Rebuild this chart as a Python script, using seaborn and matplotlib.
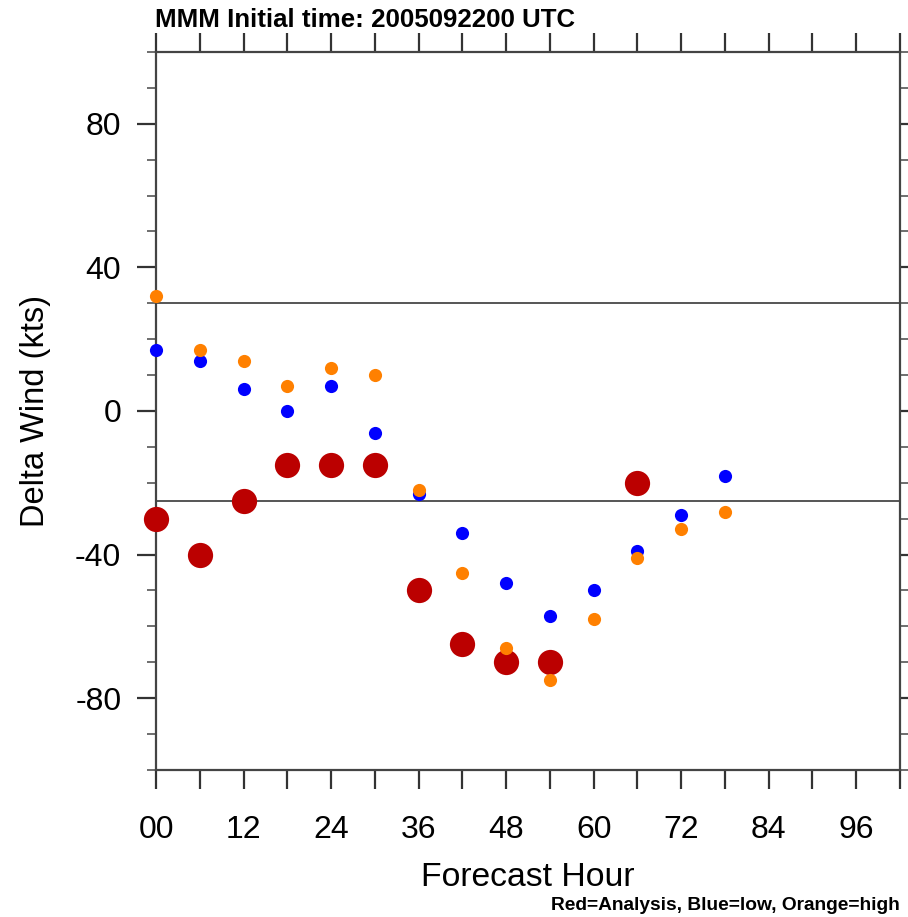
import matplotlib
matplotlib.use("Agg")
import matplotlib.pyplot as plt
from matplotlib.ticker import MultipleLocator, FixedLocator
import seaborn as sns
import pandas as pd

# Forecast hours and wind-change values (kts)
analysis_hours = [0, 6, 12, 18, 24, 30, 36, 42, 48, 54, 66]
analysis_wind = [-30, -40, -25, -15, -15, -15, -50, -65, -70, -70, -20]

member_hours = [0, 6, 12, 18, 24, 30, 36, 42, 48, 54, 60, 66, 72, 78]
low_wind = [17, 14, 6, 0, 7, -6, -23, -34, -48, -57, -50, -39, -29, -18]
high_wind = [32, 17, 14, 7, 12, 10, -22, -45, -66, -75, -58, -41, -33, -28]

ref_lines = [30, -25]
x_ticks = [0, 12, 24, 36, 48, 60, 72, 84, 96]
x_tick_labels = ["00", "12", "24", "36", "48", "60", "72", "84", "96"]
y_ticks = [-80, -40, 0, 40, 80]
y_tick_labels = ["-80", "-40", "0", "40", "80"]

sns.set_style("white")
plt.rcParams["font.family"] = ["Liberation Sans", "DejaVu Sans"]
plt.rcParams["text.color"] = "black"
plt.rcParams["axes.labelcolor"] = "black"
plt.rcParams["xtick.color"] = "black"
plt.rcParams["ytick.color"] = "black"

fig = plt.figure(figsize=(9.08, 9.17), dpi=100)
ax = fig.add_axes([156 / 908, 1 - 770 / 917, (900 - 156) / 908, (770 - 52) / 917])

for yv in ref_lines:
    ax.axhline(yv, color="#555555", lw=1.4, zorder=1)

df_a = pd.DataFrame({"hour": analysis_hours, "wind": analysis_wind})
df_l = pd.DataFrame({"hour": member_hours, "wind": low_wind})
df_h = pd.DataFrame({"hour": member_hours, "wind": high_wind})

sns.scatterplot(data=df_a, x="hour", y="wind", ax=ax, color="#BB0000",
                s=330, linewidth=0, zorder=3, clip_on=False)
sns.scatterplot(data=df_l, x="hour", y="wind", ax=ax, color="#0000FF",
                s=90, linewidth=0, zorder=4, clip_on=False)
sns.scatterplot(data=df_h, x="hour", y="wind", ax=ax, color="#FF8000",
                s=90, linewidth=0, zorder=5, clip_on=False)

ax.set_xlim(0, 102)
ax.set_ylim(-100, 100)

ax.xaxis.set_major_locator(FixedLocator(x_ticks))
ax.set_xticklabels(x_tick_labels)
ax.xaxis.set_minor_locator(MultipleLocator(6))
ax.yaxis.set_major_locator(FixedLocator(y_ticks))
ax.set_yticklabels(y_tick_labels)
ax.yaxis.set_minor_locator(MultipleLocator(10))

ax.tick_params(axis="x", which="both", direction="out", length=13.5, width=1.6,
               color="#333333", top=True, bottom=True, labelsize=23, pad=19,
               labelcolor="black")
ax.tick_params(axis="y", which="major", direction="out", length=14, width=1.6,
               color="#333333", left=True, right=True, labelsize=23, pad=11,
               labelcolor="black")
ax.tick_params(axis="y", which="minor", direction="out", length=6.5, width=1.2,
               color="#555555", left=True, right=True)

for sp in ax.spines.values():
    sp.set_visible(True)
    sp.set_color("#444444")
    sp.set_linewidth(1.6)

ax.set_xlabel("Forecast Hour", fontsize=24.3, labelpad=12, color="black")
ax.set_ylabel("Delta Wind (kts)", fontsize=23.5, labelpad=17, color="black")

fig.text(155 / 908, 1 - 27 / 917, "MMM Initial time: 2005092200 UTC",
         fontsize=18.6, fontweight="bold", ha="left", va="baseline", color="black")
fig.text(900 / 908, 1 - 910 / 917, "Red=Analysis, Blue=low, Orange=high",
         fontsize=13.8, fontweight="bold", ha="right", va="baseline", color="black")

fig.savefig("out.png", dpi=100)
